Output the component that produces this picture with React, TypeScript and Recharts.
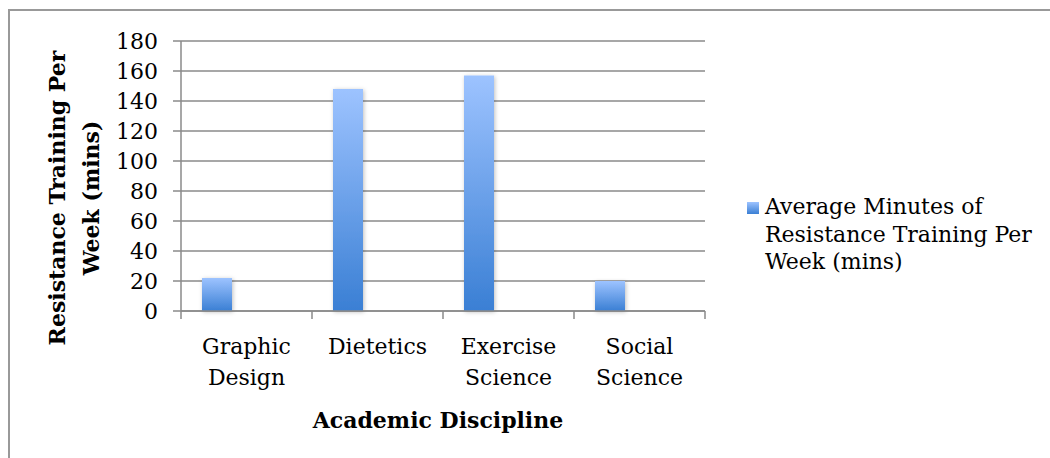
import React from 'react';
import {
  BarChart,
  Bar,
  XAxis,
  YAxis,
  CartesianGrid,
  Legend,
} from 'recharts';

const categories = ['Graphic Design', 'Dietetics', 'Exercise Science', 'Social Science'];
const avgMinutes = [22, 148, 157, 20];
const yTicks = [0, 20, 40, 60, 80, 100, 120, 140, 160, 180];

const SERIES_NAME = 'Average Minutes of Resistance Training Per Week (mins)';
const LEGEND_LINES = ['Average Minutes of', 'Resistance Training Per', 'Week (mins)'];
const Y_TITLE = ['Resistance Training Per', 'Week (mins)'];
const X_TITLE = 'Academic Discipline';

const FONT = '"DejaVu Serif", "Liberation Serif", serif';
const FS = 22;
const GRID = '#8a8a8a';

// two empty series keep the real bar in the left third of each band, like the original
const data = categories.map((name, i) => ({
  name,
  avg: avgMinutes[i],
  blankA: null,
  blankB: null,
}));

const CategoryTick = (props: any) => {
  const { x, y, payload, index, width, visibleTicksCount } = props;
  const half = payload.offset ?? width / visibleTicksCount / 2;
  const words = String(payload.value).split(' ');
  return (
    <g>
      {index === 0 && (
        <line x1={x - half} x2={x - half} y1={y} y2={y + 8} stroke={GRID} strokeWidth={1.5} />
      )}
      <line x1={x + half} x2={x + half} y1={y} y2={y + 8} stroke={GRID} strokeWidth={1.5} />
      {words.map((w, i) => (
        <text
          key={i}
          x={x}
          y={y + 43 + i * 31}
          textAnchor="middle"
          fontFamily={FONT}
          fontSize={FS}
          fill="#000"
        >
          {w}
        </text>
      ))}
    </g>
  );
};

const YTitle = (props: any) => {
  const { viewBox } = props;
  const cy = viewBox.y + viewBox.height / 2 + 22;
  const xs = [viewBox.x - 44, viewBox.x - 10];
  return (
    <g>
      {Y_TITLE.map((line, i) => (
        <text
          key={i}
          x={xs[i]}
          y={cy}
          transform={`rotate(-90 ${xs[i]} ${cy})`}
          textAnchor="middle"
          dominantBaseline="central"
          fontFamily={FONT}
          fontWeight="bold"
          fontSize={FS}
          fill="#000"
        >
          {line}
        </text>
      ))}
    </g>
  );
};

const XTitle = (props: any) => {
  const { viewBox } = props;
  return (
    <text
      x={viewBox.x + viewBox.width / 2 - 5}
      y={viewBox.y + 117}
      textAnchor="middle"
      fontFamily={FONT}
      fontWeight="bold"
      fontSize={FS}
      fill="#000"
    >
      {X_TITLE}
    </text>
  );
};

const LegendBox = () => (
  <div style={{ display: 'flex', alignItems: 'flex-start', fontFamily: FONT, fontSize: FS }}>
    <div
      title={SERIES_NAME}
      style={{
        width: 12,
        height: 12,
        marginTop: 9,
        marginRight: 6,
        background: 'linear-gradient(#9dc3ff, #3a7fd4)',
      }}
    />
    <div style={{ lineHeight: '27.5px', color: '#000', whiteSpace: 'nowrap' }}>
      {LEGEND_LINES.map((l, i) => (
        <div key={i}>{l}</div>
      ))}
    </div>
  </div>
);

export default function App() {
  return (
    <div
      style={{
        position: 'absolute',
        left: 0,
        top: 0,
        width: 1050,
        height: 458,
        overflow: 'hidden',
        background: '#fff',
      }}
    >
      <div
        style={{
          position: 'absolute',
          left: 8,
          top: 9,
          width: 1100,
          height: 500,
          border: `2px solid #999`,
        }}
      />
      <div style={{ position: 'absolute', left: 0, top: 0 }}>
        <BarChart
          width={1050}
          height={458}
          data={data}
          margin={{ top: 41, right: 345, bottom: 47, left: 101 }}
          barCategoryGap={21}
          barGap={0}
        >
          <defs>
            <linearGradient id="barFill" x1="0" y1="0" x2="0" y2="1">
              <stop offset="0%" stopColor="#9dc3ff" />
              <stop offset="100%" stopColor="#3a7fd4" />
            </linearGradient>
            <filter id="barShadow" x="-30%" y="-10%" width="160%" height="130%">
              <feDropShadow dx="1" dy="1" stdDeviation="2" floodColor="#000" floodOpacity="0.25" />
            </filter>
          </defs>
          <CartesianGrid vertical={false} stroke={GRID} strokeWidth={1.5} />
          <XAxis
            dataKey="name"
            interval={0}
            height={100}
            axisLine={{ stroke: GRID, strokeWidth: 1.5 }}
            tickLine={false}
            tickSize={0}
            tickMargin={0}
            tick={<CategoryTick />}
            label={<XTitle />}
          />
          <YAxis
            width={80}
            domain={[0, 180]}
            ticks={yTicks}
            interval={0}
            axisLine={{ stroke: GRID, strokeWidth: 1.5 }}
            tickLine={{ stroke: GRID, strokeWidth: 1.5 }}
            tickSize={8}
            tickMargin={15}
            tick={{ fontFamily: FONT, fontSize: FS, fill: '#000' }}
            label={<YTitle />}
          />
          <Legend
            layout="horizontal"
            align="center"
            verticalAlign="middle"
            content={<LegendBox />}
            wrapperStyle={{ position: 'absolute', left: 747, top: 193, width: 300 }}
          />
          <Bar
            dataKey="avg"
            name={SERIES_NAME}
            fill="url(#barFill)"
            style={{ filter: 'url(#barShadow)' }}
            isAnimationActive={false}
          />
          <Bar dataKey="blankA" fill="none" legendType="none" isAnimationActive={false} />
          <Bar dataKey="blankB" fill="none" legendType="none" isAnimationActive={false} />
        </BarChart>
      </div>
    </div>
  );
}
